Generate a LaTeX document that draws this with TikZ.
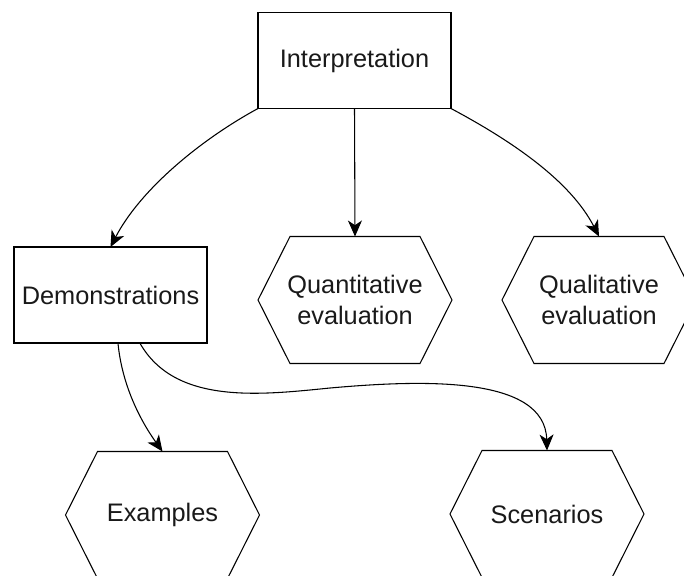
\documentclass[tikz,border=0pt]{standalone}
\usepackage{fontspec}
\setmainfont{Liberation Sans}
\usetikzlibrary{arrows.meta}
\begin{document}
\begin{tikzpicture}[x=0.75pt,y=-0.75pt,
  every node/.style={font=\fontsize{19}{23}\selectfont, text=black!90, outer sep=0pt, inner sep=0pt},
  boxnode/.style={draw, line width=0.8pt, minimum width=193*0.75pt, minimum height=96*0.75pt},
  hexnode/.style={minimum width=194*0.75pt, minimum height=127*0.75pt, align=center},
  link/.style={line width=0.8pt, -{Stealth[length=12pt,width=10.5pt,inset=3.5pt]}}
]
\useasboundingbox (0,0) rectangle (684,575);
\clip (0,0) rectangle (684,575);

% boxes
\node[boxnode] (int) at (354.5,60.5) {Interpretation};
\node[boxnode] (demo) at (110.5,295) {Demonstrations};

% hexagon nodes
\node[hexnode] (quant) at (355,300) {Quantitative\\evaluation};
\node[hexnode] (qual) at (599,300) {Qualitative\\evaluation};
\node[hexnode] (ex) at (162.5,515) {Examples};
\node[hexnode] (scen) at (547,514) {Scenarios};

\foreach \n in {quant,qual,ex,scen}
  \draw[line width=0.8pt]
    ([xshift=24pt]\n.north west) -- ([xshift=-24pt]\n.north east) -- (\n.east)
    -- ([xshift=-24pt]\n.south east) -- ([xshift=24pt]\n.south west) -- (\n.west) -- cycle;

% connectors
\draw[link] (int.south west) .. controls (200,140) and (140,190) .. (demo.north);
\draw[link] (int.south) -- (quant.north);
\draw[link] (int.south east) .. controls (510,140) and (570,180) .. (qual.north);
\draw[link] ([xshift=5.6pt]demo.south) .. controls (122,385) and (140,420) .. (ex.north);
\coordinate (wave) at (330,388);
\draw[link] ([xshift=22pt]demo.south) .. controls (175,405) and (260,395) .. (wave)
  .. controls (420,380) and (545,375) .. (scen.north);
\end{tikzpicture}
\end{document}
